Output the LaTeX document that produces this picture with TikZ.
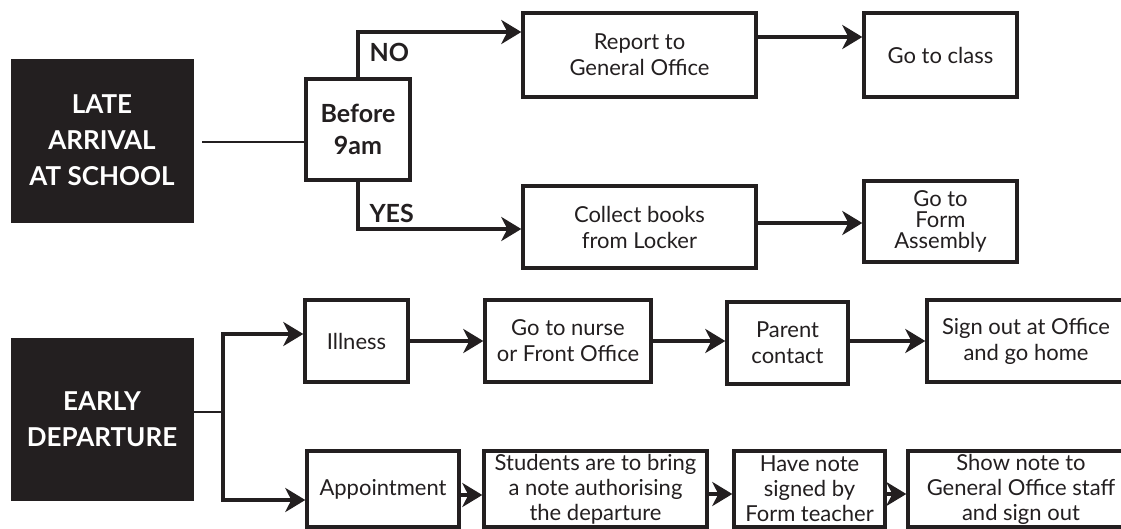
\documentclass[tikz,border=0pt]{standalone}
\usepackage{fontspec}
\setmainfont{Lato}
\usetikzlibrary{arrows.meta}
\definecolor{ink}{RGB}{35,31,32}
\tikzset{
  titlebox/.style={fill=ink,draw=ink,text=white,align=center,
    font=\bfseries\fontsize{26}{36}\selectfont},
  stepbox/.style={draw=ink,line width=3.4pt,align=center,text=ink,
    font=\fontsize{22}{26}\selectfont,inner sep=0pt},
  lbl/.style={text=ink,font=\bfseries\fontsize{25}{30}\selectfont},
  conn/.style={draw=ink,line width=3.4pt},
  arr/.style={conn,-{Stealth[length=20pt,width=24pt,inset=6pt]}}
}
\begin{document}
\begin{tikzpicture}[x=1pt,y=-1pt]
  \useasboundingbox[fill=white] (0,0) rectangle (1121,529);
  % late arrival
  \node[titlebox,minimum width=182pt,minimum height=163pt] (late) at (102,140.5) {LATE\\ARRIVAL\\AT SCHOOL};
  \node[stepbox,minimum width=104pt,minimum height=101pt,font=\bfseries\fontsize{25}{32}\selectfont] (before) at (358,129.5) {Before\\9am};
  \node[stepbox,minimum width=233pt,minimum height=84pt] (report) at (639.5,55) {Report to\\General Office};
  \node[stepbox,minimum width=153pt,minimum height=84pt] (class) at (940.5,55) {Go to class};
  \node[stepbox,minimum width=233pt,minimum height=82pt] (collect) at (639.5,227) {Collect books\\from Locker};
  \node[stepbox,minimum width=153pt,minimum height=81pt,font=\fontsize{22}{21}\selectfont] (assembly) at (940.5,221.5) {Go to\\Form\\Assembly};
  \node[lbl,anchor=west] (no) at (366,52) {NO};
  \node[lbl,anchor=west] (yes) at (366,213) {YES};
  \draw[conn,line width=2.8pt] ([xshift=9pt,yshift=-1.5pt]late.east) -- ([yshift=-1.5pt]late.east -| before.west);
  \draw[arr] (before.north) |- ([yshift=23pt]report.west);
  \draw[arr] (before.south) |- ([yshift=-2pt]collect.west);
  \draw[arr] ([yshift=18pt]report.east) -- ([yshift=18pt]report.east -| class.west);
  \draw[arr] ([yshift=4pt]collect.east) -- ([yshift=4pt]collect.east -| assembly.west);
  % early departure
  \node[titlebox,minimum width=182pt,minimum height=162pt] (early) at (102,419) {EARLY\\DEPARTURE};
  \node[stepbox,minimum width=103pt,minimum height=82pt] (illness) at (356.5,341) {Illness};
  \node[stepbox,minimum width=166pt,minimum height=82pt] (nurse) at (568,341) {Go to nurse\\or Front Office};
  \node[stepbox,minimum width=121pt,minimum height=82pt] (parent) at (787.5,343) {Parent\\contact};
  \node[stepbox,minimum width=198pt,minimum height=82pt] (signout) at (1026,341) {Sign out at Office\\and go home};
  \node[stepbox,minimum width=152pt,minimum height=76pt] (appoint) at (383,489) {Appointment};
  \node[stepbox,minimum width=223pt,minimum height=76pt,font=\fontsize{22}{25}\selectfont] (students) at (595.5,489) {Students are to bring\\a note authorising\\the departure};
  \node[stepbox,minimum width=151pt,minimum height=76pt,font=\fontsize{22}{25}\selectfont] (signed) at (809.5,489) {Have note\\signed by\\Form teacher};
  \node[stepbox,minimum width=226pt,minimum height=76pt,font=\fontsize{22}{25}\selectfont] (shownote) at (1021,489) {Show note to\\General Office staff\\and sign out};
  \coordinate (fork) at (223,412);
  \draw[conn,line width=2.8pt] (early.east |- fork) -- (fork);
  \draw[arr] (fork) |- ([yshift=7pt]illness.west);
  \draw[arr] (fork) |- ([yshift=-11pt]appoint.west);
  \draw[arr] (illness.east) -- (nurse.west);
  \draw[arr] (nurse.east) -- (nurse.east -| parent.west);
  \draw[arr] (parent.east |- signout.west) -- (signout.west);
  \draw[arr] ([yshift=-6pt]appoint.east) -- ([yshift=-6pt]students.west);
  \draw[arr] ([yshift=-5pt]students.east) -- ([yshift=-5pt]signed.west);
  \draw[arr] ([yshift=-5pt]signed.east) -- ([yshift=-5pt]shownote.west);
\end{tikzpicture}
\end{document}
